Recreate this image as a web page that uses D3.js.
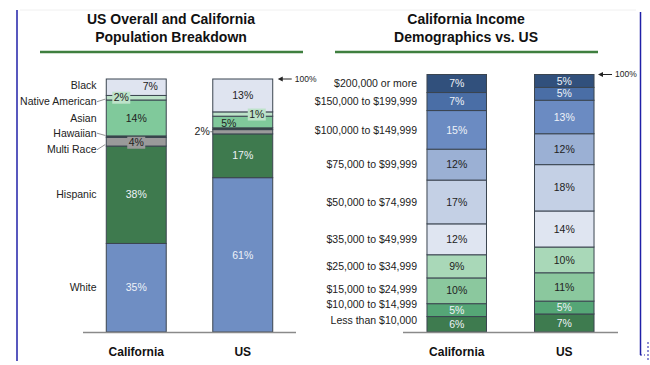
<!DOCTYPE html>
<html><head><meta charset="utf-8">
<script src="https://cdn.jsdelivr.net/npm/d3@7/dist/d3.min.js"></script>
<style>
html,body{margin:0;padding:0;background:#fff;}
svg{display:block;font-family:"Liberation Sans",Arial,sans-serif;}
</style></head>
<body>
<svg id="chart" width="650" height="365"></svg>
<script>
// ---------- DATA ----------
const groups = ["California", "US"];

const popCategories = ["White", "Hispanic", "Multi Race", "Hawaiian", "Asian", "Native American", "Black"];
const popCalifornia = [35, 38.5, 3.4, 0.6, 14.2, 1.8, 6.5];
const popUS = [61, 17.3, 1.7, 0.7, 4.6, 1.7, 13];
const popCaliforniaLabels = ["35%", "38%", "4%", "", "14%", "2%", "7%"];
const popUSLabels = ["61%", "17%", "2%", "", "5%", "1%", "13%"];
const popColors = ["#6f8ec3", "#3e7a4e", "#9a9a9a", "#33463c", "#80c99b", "#bde3c9", "#dfe4f0"];

const incomeCategories = ["Less than $10,000", "$10,000 to $14,999", "$15,000 to $24,999", "$25,000 to $34,999",
  "$35,000 to $49,999", "$50,000 to $74,999", "$75,000 to $99,999", "$100,000 to $149,999",
  "$150,000 to $199,999", "$200,000 or more"];
const incomeCalifornia = [6, 5, 10, 9, 12, 17, 12, 15, 7, 7];
const incomeUS = [7, 5, 11, 10, 14, 18, 12, 13, 5, 5];
const incomeColors = ["#3e7b4f", "#55a676", "#8bc89e", "#a9d8b8", "#dfe5f1", "#c4d0e5", "#9bb0d4", "#6b8bc2", "#4a6ea6", "#31507c"];

const titleLeft = ["US Overall and California", "Population Breakdown"];
const titleRight = ["California Income", "Demographics vs. US"];

// ---------- DRAW ----------
const svg = d3.select("#chart");
const FONT = 10.5;
const stroke = "#3b4550";

// frame lines
svg.append("line").attr("x1", 17).attr("x2", 17).attr("y1", 10).attr("y2", 361)
  .attr("stroke", "#2020a8").attr("stroke-width", 1.5);
svg.append("line").attr("x1", 640.5).attr("x2", 640.5).attr("y1", 12).attr("y2", 355)
  .attr("stroke", "#2020a8").attr("stroke-width", 1.5);
svg.append("line").attr("x1", 20).attr("x2", 636).attr("y1", 10).attr("y2", 10)
  .attr("stroke", "#f0f0f0").attr("stroke-width", 1);
svg.append("path").attr("d", "M640,355 L645,355 M648,342 L648,360")
  .attr("stroke", "#2020a8").attr("stroke-width", 1).attr("stroke-dasharray", "2,2").attr("fill", "none");

function title(lines, cx, x1, x2) {
  lines.forEach((t, i) => svg.append("text").attr("x", cx).attr("y", 24 + i * 18)
    .attr("text-anchor", "middle").attr("font-size", 14).attr("font-weight", "bold")
    .attr("fill", "#111").text(t));
  svg.append("line").attr("x1", x1).attr("x2", x2).attr("y1", 52).attr("y2", 52)
    .attr("stroke", "#3f7f3f").attr("stroke-width", 2.5);
}
title(titleLeft, 171, 40, 303);
title(titleRight, 466, 335, 598);

function stackSegments(values) {
  let acc = 0;
  return values.map((v, i) => { const s = { i, v, y0: acc, y1: acc + v }; acc += v; return s; });
}

function arrow(x, y) {
  svg.append("line").attr("x1", x + 3).attr("x2", x + 14).attr("y1", y).attr("y2", y)
    .attr("stroke", "#222").attr("stroke-width", 1);
  svg.append("path").attr("d", `M${x},${y} L${x + 5},${y - 2.5} L${x + 5},${y + 2.5} Z`).attr("fill", "#222");
  svg.append("text").attr("x", x + 17).attr("y", y).attr("dy", "0.35em")
    .attr("font-size", 8.5).attr("fill", "#222").text("100%");
}

// ===== LEFT PANEL =====
const xL = d3.scaleBand().domain(groups).range([83, 296]).paddingInner(0.437).paddingOuter(0.2185);
const yL = d3.scaleLinear().domain([0, 100]).range([332, 79]);
const leftData = { "California": popCalifornia, "US": popUS };
const leftLabels = { "California": popCaliforniaLabels, "US": popUSLabels };

groups.forEach(g => {
  const segs = stackSegments(leftData[g]);
  const gx = xL(g), bw = xL.bandwidth();
  svg.append("g").selectAll("rect").data(segs).join("rect")
    .attr("x", gx).attr("width", bw)
    .attr("y", d => yL(d.y1)).attr("height", d => yL(d.y0) - yL(d.y1))
    .attr("fill", d => popColors[d.i]).attr("stroke", stroke).attr("stroke-width", 1);
  segs.forEach(d => {
    const lab = leftLabels[g][d.i];
    if (!lab) return;
    const cat = popCategories[d.i];
    let x = gx + bw / 2, y = (yL(d.y0) + yL(d.y1)) / 2, anchor = "middle", box = false;
    const light = (cat === "White" || cat === "Hispanic");
    if (g === "California") {
      if (cat === "Black") { x = gx + 44; y -= 1; }
      if (cat === "Native American") { x = gx + 15; box = true; }
      if (cat === "Multi Race") { box = true; y += 1; }
    } else {
      if (cat === "Asian") { x = gx + 16; y += 1.5; }
      if (cat === "Native American") { x = gx + 44; y += 0.5; box = true; }
      if (cat === "Multi Race") {
        x = gx - 3; anchor = "end";
        svg.append("line").attr("x1", gx - 2.5).attr("x2", gx).attr("y1", y).attr("y2", y)
          .attr("stroke", "#555").attr("stroke-width", 0.8);
      }
    }
    if (box) {
      svg.append("rect").attr("x", x - 9).attr("y", y - 6).attr("width", 18).attr("height", 12)
        .attr("fill", popColors[d.i]);
    }
    svg.append("text").attr("x", x).attr("y", y).attr("dy", "0.35em").attr("text-anchor", anchor)
      .attr("font-size", FONT).attr("fill", light ? "#eef2f8" : "#222").text(lab);
  });
});

// left category labels
const caSegs = stackSegments(popCalifornia);
const catOffsets = { "Black": -2, "Native American": 4, "Hawaiian": -3.5, "Multi Race": 8 };
caSegs.forEach(d => {
  const cat = popCategories[d.i];
  const cy = (yL(d.y0) + yL(d.y1)) / 2;
  const off = catOffsets[cat] || 0;
  svg.append("text").attr("x", 96.5).attr("y", cy + off).attr("dy", "0.35em").attr("text-anchor", "end")
    .attr("font-size", FONT).attr("fill", "#222").text(cat);
  if (cat === "Native American" || cat === "Hawaiian" || cat === "Multi Race") {
    svg.append("line").attr("x1", 97).attr("x2", xL("California") - 1)
      .attr("y1", cy + off).attr("y2", cy + off * 0.35)
      .attr("stroke", "#777").attr("stroke-width", 0.8);
  }
});

svg.append("line").attr("x1", 83).attr("x2", 296).attr("y1", 332.5).attr("y2", 332.5)
  .attr("stroke", "#8a8a8a").attr("stroke-width", 1.5);
groups.forEach(g => svg.append("text").attr("x", xL(g) + xL.bandwidth() / 2).attr("y", 356)
  .attr("text-anchor", "middle").attr("font-size", 12).attr("font-weight", "bold").attr("fill", "#111").text(g));
arrow(xL("US") + xL.bandwidth() + 5, yL(100));

// ===== RIGHT PANEL =====
const xR = d3.scaleBand().domain(groups).range([403, 618]).paddingInner(0.4465).paddingOuter(0.223);
const yR = d3.scaleLinear().domain([0, 100]).range([332, 74.5]);
const rightData = { "California": incomeCalifornia, "US": incomeUS };
const whiteText = new Set([0, 1, 7, 8, 9]);

groups.forEach(g => {
  const segs = stackSegments(rightData[g]);
  const gx = xR(g), bw = xR.bandwidth();
  svg.append("g").selectAll("rect").data(segs).join("rect")
    .attr("x", gx).attr("width", bw)
    .attr("y", d => yR(d.y1)).attr("height", d => yR(d.y0) - yR(d.y1))
    .attr("fill", d => incomeColors[d.i]).attr("stroke", stroke).attr("stroke-width", 1);
  svg.append("g").selectAll("text").data(segs).join("text")
    .attr("x", gx + bw / 2).attr("y", d => (yR(d.y0) + yR(d.y1)) / 2).attr("dy", "0.35em")
    .attr("text-anchor", "middle").attr("font-size", FONT)
    .attr("fill", d => whiteText.has(d.i) ? "#eef2f8" : "#222")
    .text(d => d.v + "%");
});

const incOffsets = { 0: -3.5, 1: -5.5, 2: -1.5 };
stackSegments(incomeCalifornia).forEach(d => {
  const cy = (yR(d.y0) + yR(d.y1)) / 2 + (incOffsets[d.i] || 0);
  svg.append("text").attr("x", 417).attr("y", cy).attr("dy", "0.35em").attr("text-anchor", "end")
    .attr("font-size", FONT).attr("fill", "#222").text(incomeCategories[d.i]);
});

svg.append("line").attr("x1", 403).attr("x2", 618).attr("y1", 332.5).attr("y2", 332.5)
  .attr("stroke", "#8a8a8a").attr("stroke-width", 1.5);
groups.forEach(g => svg.append("text").attr("x", xR(g) + xR.bandwidth() / 2).attr("y", 356)
  .attr("text-anchor", "middle").attr("font-size", 12).attr("font-weight", "bold").attr("fill", "#111").text(g));
arrow(xR("US") + xR.bandwidth() + 4, yR(100));
</script>
</body></html>
